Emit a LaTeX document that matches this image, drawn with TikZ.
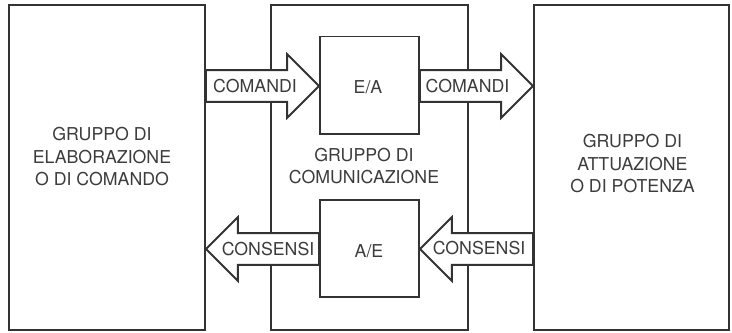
\documentclass[tikz,border=0pt]{standalone}
\usepackage{fontspec}
\setmainfont{TeX Gyre Heros}
\usepackage{tikz}
\usetikzlibrary{positioning}
\usetikzlibrary{calc}

\definecolor{linea}{HTML}{333333}
\definecolor{scritta}{HTML}{3C3C3C}

\tikzset{
	gruppo/.style={draw=linea, line width=1.1pt, inner sep=0pt, fill=none},
	testo/.style={text=scritta, align=center, inner sep=0pt,
		font=\fontsize{10.1}{12.8}\selectfont},
	% block arrow: tail at the start, tip at the target
	freccia/.style={draw=linea, fill=white, line width=1.1pt, line join=miter,
		to path={let \p1=(\tikztostart), \p2=(\tikztotarget),
			\p3=($(\tikztotarget)!18.14pt!(\tikztostart)$) in
			(\x1,\y1+9.07pt) -- (\x3,\y1+9.07pt) -- (\x3,\y1+18.14pt)
			-- (\x2,\y2) -- (\x3,\y1-18.14pt) -- (\x3,\y1-9.07pt)
			-- (\x1,\y1-9.07pt) -- cycle}},
}

\begin{document}
\begin{tikzpicture}[x=0.02cm, y=-0.02cm]

	% Proper size --- Bounding box
	\useasboundingbox (0,0) rectangle (732,332);

	% ------------------------------------------------
	% THE THREE GROUPS
	% ------------------------------------------------
	\node[gruppo, minimum width=3.92cm, minimum height=6.50cm] (elab) at (107,167.5) {};
	\node[gruppo, minimum width=3.94cm, minimum height=6.50cm] (comu) at (369.5,167.5) {};
	\node[gruppo, minimum width=3.90cm, minimum height=6.50cm] (attu) at (631.5,167.5) {};

	% converters inside the communication group
	\node[gruppo, minimum width=1.98cm, minimum height=1.95cm] (ea) at (369.5,85.25) {};
	\node[gruppo, minimum width=1.98cm, minimum height=1.94cm] (ae) at (369.5,248.5) {};

	% levels of the two rows of arrows
	\coordinate (Ysu)  at (0,86);
	\coordinate (Ygiu) at (0,249);

	% ------------------------------------------------
	% ARROWS (drawn over the box edges)
	% ------------------------------------------------
	\draw[freccia] (elab.east |- Ysu) to (ea.west |- Ysu);
	\draw[freccia] (ea.east |- Ysu) to (attu.west |- Ysu);
	\draw[freccia] (ae.west |- Ygiu) to (elab.east |- Ygiu);
	\draw[freccia] (attu.west |- Ygiu) to (ae.east |- Ygiu);

	% ------------------------------------------------
	% LABELS
	% ------------------------------------------------
	\node[testo] (Lelab) at (102,157) {GRUPPO DI\\ELABORAZIONE\\O DI COMANDO};
	\node[testo] (Lcomu) at (364,166) {GRUPPO DI\\COMUNICAZIONE};
	\node[testo] (Lattu) at (632.5,164) {GRUPPO DI\\ATTUAZIONE\\O DI POTENZA};

	\node[testo] (Lea) at (368,87) {E/A};
	\node[testo] (Lae) at (369,251.5) {A/E};

	\node[testo] (cmdA) at (255,86)    {COMANDI};
	\node[testo] (cmdB) at (467.5,86.5) {COMANDI};
	\node[testo] (cnsA) at (268,249.5)  {CONSENSI};
	\node[testo] (cnsB) at (479,248)    {CONSENSI};

\end{tikzpicture}
\end{document}
